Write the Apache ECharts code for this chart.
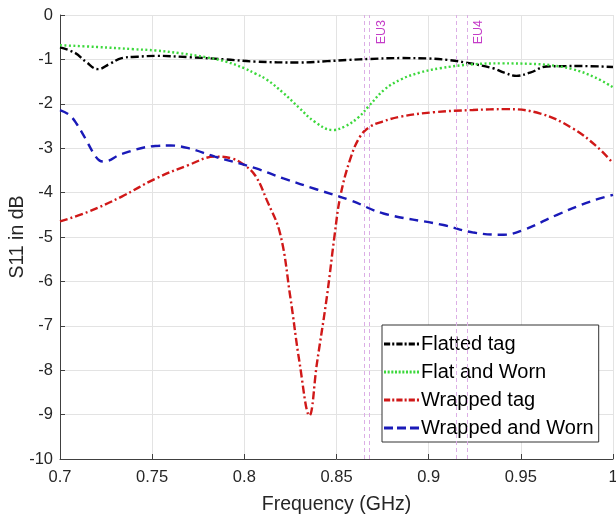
<!DOCTYPE html>
<html>
<head>
<meta charset="utf-8">
<script src="https://cdn.jsdelivr.net/npm/echarts@6/dist/echarts.min.js"></script>
<style>html,body{margin:0;padding:0;background:#fff}#c{width:616px;height:516px}</style>
</head>
<body>
<div id="c"></div>
<script>
// ---- data ----
var flattedFreq = [0.700,0.708,0.714,0.7206,0.727,0.7335,0.742,0.752,0.770,0.790,0.806,0.830,0.845,0.857,0.868,0.885,0.900,0.910,0.920,0.935,0.941,0.9476,0.955,0.964,0.982,1.000];
var flattedS11  = [-0.73,-0.85,-1.05,-1.22,-1.10,-0.97,-0.94,-0.92,-0.95,-1.00,-1.05,-1.07,-1.04,-1.01,-0.99,-0.97,-0.98,-1.01,-1.07,-1.20,-1.30,-1.37,-1.30,-1.16,-1.15,-1.17];

var flatWornFreq = [0.700,0.720,0.740,0.752,0.765,0.779,0.790,0.800,0.806,0.812,0.821,0.830,0.838,0.848,0.855,0.862,0.868,0.876,0.885,0.895,0.906,0.924,0.940,0.955,0.966,0.978,0.990,1.000];
var flatWornS11  = [-0.68,-0.72,-0.77,-0.80,-0.86,-0.95,-1.05,-1.20,-1.32,-1.45,-1.75,-2.10,-2.40,-2.59,-2.50,-2.30,-2.03,-1.68,-1.45,-1.30,-1.20,-1.11,-1.09,-1.10,-1.13,-1.22,-1.40,-1.63];

var wrappedFreq = [0.700,0.7154,0.7335,0.7516,0.7697,0.784,0.7932,0.800,0.806,0.8122,0.8194,0.8249,0.830,0.8353,0.8394,0.8448,0.849,0.852,0.8574,0.8626,0.868,0.875,0.8846,0.9026,0.924,0.942,0.9606,0.978,0.9914,1.000];
var wrappedS11  = [-4.65,-4.43,-4.09,-3.69,-3.38,-3.19,-3.23,-3.38,-3.62,-4.17,-4.92,-6.34,-7.84,-9.02,-7.84,-6.34,-4.95,-4.10,-3.25,-2.75,-2.52,-2.40,-2.29,-2.19,-2.14,-2.12,-2.22,-2.55,-2.97,-3.34];

var wrapWornFreq = [0.700,0.705,0.709,0.714,0.718,0.7215,0.724,0.7335,0.7516,0.760,0.7697,0.784,0.806,0.8212,0.8394,0.8574,0.8755,0.908,0.9244,0.9407,0.9515,0.9697,0.9877,1.000];
var wrapWornS11  = [-2.14,-2.25,-2.45,-2.80,-3.10,-3.28,-3.30,-3.13,-2.95,-2.94,-3.00,-3.19,-3.45,-3.68,-3.93,-4.17,-4.47,-4.73,-4.90,-4.95,-4.84,-4.50,-4.20,-4.05];

var seriesNames = ['Flatted tag','Flat and Worn','Wrapped tag','Wrapped and Worn'];
var bandEdges  = [0.865, 0.868, 0.915, 0.921];
var bandLabels = ['', 'EU3', '', 'EU4'];

var xTicks = {min: 0.7, max: 1, interval: 0.05};
var yTicks = {min: -10, max: 0, interval: 1};

function pairs(xs, ys){ return xs.map(function(x,i){ return [x, ys[i]]; }); }

// legend sample icons drawn as dash patterns (style only)
function dashIcon(pattern, total, h){
  var d = '', x = 0, i = 0;
  while (x < total) {
    var on = pattern[i % pattern.length], off = pattern[(i + 1) % pattern.length];
    var w = Math.min(on, total - x);
    d += 'M' + x + ' 0h' + w + 'v' + h + 'h' + (-w) + 'z';
    x += on + off; i += 2;
  }
  return 'path://' + d;
}
var icons = [
  dashIcon([6,2,2,2], 35, 2.6),
  dashIcon([2,1.6], 35, 2.6),
  dashIcon([6,2,2,2], 35, 2.6),
  dashIcon([9,4], 35, 2.6)
];

var font = 'Liberation Sans, Arial, Helvetica, sans-serif';
var chart = echarts.init(document.getElementById('c'), null, {renderer:'canvas'});

var lineW = 2.4;
var colors = ['#000000', '#3cd83c', '#d01818', '#1a1ab8'];
chart.setOption({
  animation: false,
  backgroundColor: '#ffffff',
  grid: {left: 60, right: 3, top: 15, bottom: 57, containLabel: false, outerBoundsMode: 'none'},
  xAxis: {
    type: 'value', min: xTicks.min, max: xTicks.max, interval: xTicks.interval,
    name: 'Frequency (GHz)', nameLocation: 'middle', nameGap: 36, nameMoveOverlap: false,
    nameTextStyle: {fontFamily: font, fontSize: 19.5, color: '#262626'},
    axisLine: {show: true, onZero: false, lineStyle: {color: '#404040', width: 1}},
    axisTick: {show: true, inside: true, length: 5, lineStyle: {color: '#404040'}},
    axisLabel: {fontFamily: font, fontSize: 16.5, color: '#262626', margin: 10},
    splitLine: {show: true, lineStyle: {color: '#e3e3e3', width: 1}}
  },
  yAxis: {
    type: 'value', min: yTicks.min, max: yTicks.max, interval: yTicks.interval,
    name: 'S11 in dB', nameLocation: 'middle', nameGap: 32, nameMoveOverlap: false,
    nameTextStyle: {fontFamily: font, fontSize: 19.5, color: '#262626'},
    axisLine: {show: true, onZero: false, lineStyle: {color: '#404040', width: 1}},
    axisTick: {show: true, inside: true, length: 5, lineStyle: {color: '#404040'}},
    axisLabel: {fontFamily: font, fontSize: 16.5, color: '#262626', margin: 7},
    splitLine: {show: true, lineStyle: {color: '#e3e3e3', width: 1}}
  },
  legend: {
    data: seriesNames.map(function(n, i){ return {name: n, icon: icons[i]}; }),
    orient: 'vertical', left: 382, top: 325,
    symbolKeepAspect: false,
    padding: [8, 5, 3, 2], itemGap: 6, itemWidth: 35, itemHeight: 3,
    itemStyle: {borderWidth: 0},
    backgroundColor: '#ffffff', borderColor: '#333333', borderWidth: 1, borderRadius: 0,
    textStyle: {fontFamily: font, fontSize: 20, color: '#000000', lineHeight: 22, padding: [0,0,0,-3]}
  },
  series: [
    {
      name: '_bands', type: 'line', data: [], silent: true, z: 1,
      markLine: {
        silent: true, symbol: ['none','none'], animation: false, precision: 4,
        lineStyle: {type: [4,3], color: '#dcaee6', width: 1},
        label: {show: true, position: 'insideEndBottom', color: '#c43cc8', fontFamily: font, fontSize: 12.5, distance: 5,
                formatter: function(p){ return p.name; }},
        data: bandEdges.map(function(x,i){ return {xAxis: x, name: bandLabels[i]}; })
      }
    },
    {name: seriesNames[0], type: 'line', smooth: 0.4, symbol: 'none', z: 3,
     itemStyle: {color: colors[0]},
     lineStyle: {color: colors[0], width: lineW, type: [8,3,2,3]},
     data: pairs(flattedFreq, flattedS11)},
    {name: seriesNames[1], type: 'line', smooth: 0.4, symbol: 'none', z: 3,
     itemStyle: {color: colors[1]},
     lineStyle: {color: colors[1], width: lineW, type: [2,2.5]},
     data: pairs(flatWornFreq, flatWornS11)},
    {name: seriesNames[2], type: 'line', smooth: 0.4, symbol: 'none', z: 3,
     itemStyle: {color: colors[2]},
     lineStyle: {color: colors[2], width: lineW, type: [8,3,2,3]},
     data: pairs(wrappedFreq, wrappedS11)},
    {name: seriesNames[3], type: 'line', smooth: 0.4, symbol: 'none', z: 3,
     itemStyle: {color: colors[3]},
     lineStyle: {color: colors[3], width: lineW, type: [9,6]},
     data: pairs(wrapWornFreq, wrapWornS11)}
  ]
});
</script>
</body>
</html>
